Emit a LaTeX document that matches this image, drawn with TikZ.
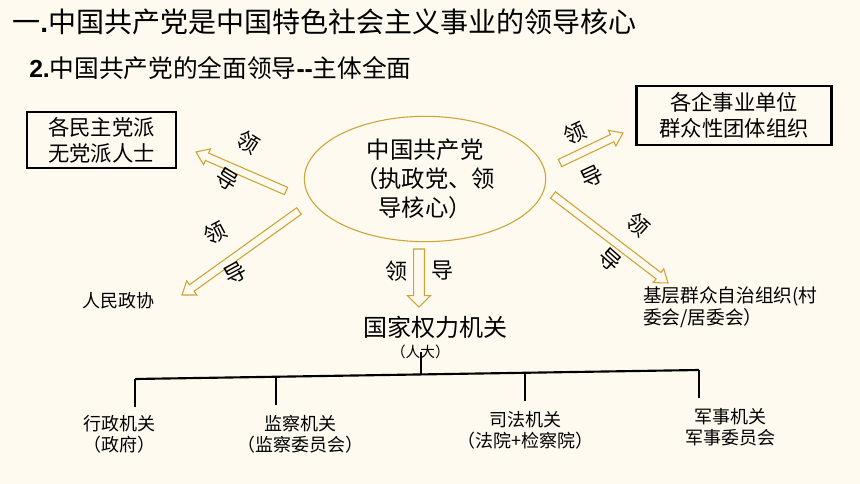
\documentclass[tikz,border=0pt]{standalone}
\usepackage{fontspec}
\setmainfont{Noto Sans CJK SC}
\newfontfamily\numfont{Liberation Sans}
\usepackage{xcolor}
\usetikzlibrary{positioning,calc,shapes.geometric}
\definecolor{paper}{RGB}{254,250,240}
\definecolor{gold}{RGB}{207,163,52}

% hollow block arrow: from, to, half shaft, half head, head length
\newcommand{\HollowArrow}[5]{%
  \coordinate (hb) at ($(#2)!#5!(#1)$);
  \draw[gold, line width=0.8pt, fill=paper]
    ($(#1)!#3!90:(#2)$) -- ($(hb)!#3!90:(#2)$) -- ($(hb)!#4!90:(#2)$) -- (#2)
    -- ($(hb)!#4!-90:(#2)$) -- ($(hb)!#3!-90:(#2)$) -- ($(#1)!#3!-90:(#2)$) -- cycle;
}

\begin{document}
\begin{tikzpicture}[x=0.75pt, y=-0.75pt,
    boxed/.style={draw, line width=1.8pt, align=center, inner sep=0pt,
        font=\fontsize{16}{19.5}\selectfont},
    lead/.style={font=\fontsize{16.5}{16.5}\selectfont, inner sep=0pt},
    small/.style={font=\fontsize{13.5}{16}\selectfont, align=center, inner sep=0pt}]

    % background
    \fill[paper] (0,0) rectangle (860,484);

    % headings
    \node[anchor=west, inner sep=0pt, font=\fontsize{21}{21}\selectfont] (title) at (12,22)
        {一{\numfont\bfseries .}中国共产党是中国特色社会主义事业的领导核心};
    \node[anchor=west, inner sep=0pt, font=\fontsize{18.5}{18.5}\selectfont] (subtitle) at (29,68)
        {{\numfont\bfseries 2.}中国共产党的全面领导{\numfont\bfseries --}主体全面};

    % party in the middle
    \node[ellipse, draw=gold, line width=0.8pt, minimum width=181pt, minimum height=94pt,
        inner sep=0pt, align=center, font=\fontsize{17.5}{21.75}\selectfont] (party) at (425,179)
        {中国共产党\\（执政党、领\\导核心）};

    % led groups
    \node[boxed, minimum width=112pt, minimum height=42pt] (democ) at (101.5,140) {各民主党派\\无党派人士};
    \node[boxed, minimum width=146pt, minimum height=44pt] (firms) at (734,115.5) {各企事业单位\\群众性团体组织};
    \node[small] (cppcc) at (118,301) {人民政协};
    \node[small, anchor=north west, align=left, font=\fontsize{14}{16.5}\selectfont] (grass) at (643,286)
        {基层群众自治组织(村\\委会/居委会）};
    \node[inner sep=0pt, font=\fontsize{18}{18}\selectfont] (npc) at (435,327) {国家权力机关};
    \node[small, font=\fontsize{11}{11}\selectfont, below=10pt of npc.south, xshift=-11pt, anchor=center] (npcsub) {（人大）};

    % arrow ends
    \coordinate (ultail) at (286,191);  \coordinate (ulhead) at (196,152);
    \coordinate (lltail) at (299,211);  \coordinate (llhead) at (182,295);
    \coordinate (urtail) at (560,163);  \coordinate (urhead) at (623,133);
    \coordinate (lrtail) at (553,195);  \coordinate (lrhead) at (668,283);
    \coordinate (mdtail) at (419,249);  \coordinate (mdhead) at (419,307);

    % hollow arrows
    \foreach \a in {ul,ll,ur,lr}{
        \HollowArrow{\a tail}{\a head}{3pt}{6.5pt}{9pt}
    }
    \HollowArrow{mdtail}{mdhead}{4.1pt}{8.6pt}{8.5pt}

    % arrow labels
    \foreach \n/\x/\y/\r/\t in {ul1/248/142/-32/领, ul2/227/180/-32/导,
                                ll1/215/233/28/领, ll2/235/273/28/导,
                                ur1/575/133/25/领, ur2/592/177/25/导,
                                lr1/638/225/-42/领, lr2/610/260/-42/导,
                                md1/396/271/0/领, md2/442/271/0/导}
        \node[lead, rotate=\r] (\n) at (\x,\y) {\t};

    % branches of state power
    \coordinate (bl) at (135,379);
    \coordinate (br) at (699,370);
    \coordinate (hub) at ($(bl)!0.507!(br)$);
    \draw[line width=1.6pt] (bl) -- (br);
    \draw[line width=1.6pt] (hub) -- (hub |- npcsub.center);

    \foreach \f in {0,0.25,0.691,1}
        \draw[line width=1.6pt] ($(bl)!\f!(br)$) -- ++(0,28);

    \foreach \n/\x/\y/\descr in {exec/119/434/{行政机关\\（政府）},
                                 super/300/434/{监察机关\\（监察委员会）},
                                 judic/525/430/{司法机关\\（法院+检察院）},
                                 milit/730/427/{军事机关\\军事委员会}}
        \node[small] (\n) at (\x,\y) {\descr};
\end{tikzpicture}
\end{document}
